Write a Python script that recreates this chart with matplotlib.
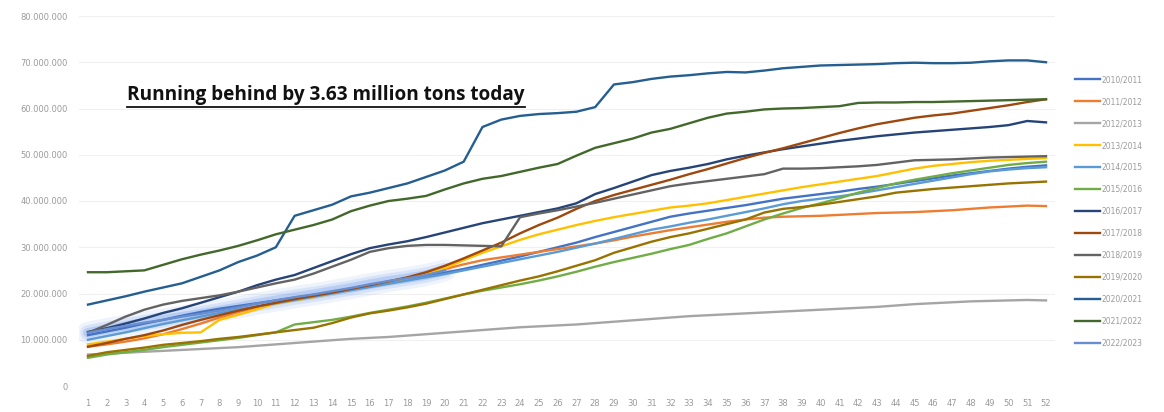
import matplotlib
matplotlib.use("Agg")
import matplotlib.pyplot as plt
from matplotlib.lines import Line2D
from matplotlib.ticker import FuncFormatter

weeks = list(range(1, 53))

s2010_11 = [11.0, 11.8, 12.6, 13.5, 14.3, 15.2, 16.0, 16.7, 17.3, 17.9, 18.5, 19.1, 19.7, 20.3, 21.0, 21.7, 22.4, 23.0, 23.7, 24.5,
            25.3, 26.2, 27.1, 28.0, 29.0, 30.0, 31.0, 32.2, 33.3, 34.4, 35.5, 36.6, 37.3, 37.9, 38.5, 39.1, 39.8, 40.5, 41.0, 41.5,
            42.0, 42.6, 43.1, 43.7, 44.3, 44.9, 45.5, 46.0, 46.5, 47.0, 47.4, 47.7]
s2011_12 = [8.5, 9.0, 9.6, 10.3, 11.2, 12.3, 13.5, 14.8, 16.0, 17.0, 18.0, 18.8, 19.5, 20.2, 21.0, 21.8, 22.6, 23.4, 24.3, 25.3,
            26.3, 27.2, 27.8, 28.4, 29.0, 29.6, 30.2, 30.8, 31.5, 32.3, 33.0, 33.7, 34.3, 34.9, 35.5, 36.0, 36.4, 36.6, 36.7, 36.8,
            37.0, 37.2, 37.4, 37.5, 37.6, 37.8, 38.0, 38.3, 38.6, 38.8, 39.0, 38.9]
s2012_13 = [6.8, 7.0, 7.2, 7.4, 7.6, 7.8, 8.0, 8.2, 8.4, 8.7, 9.0, 9.3, 9.6, 9.9, 10.2, 10.4, 10.6, 10.9, 11.2, 11.5,
            11.8, 12.1, 12.4, 12.7, 12.9, 13.1, 13.3, 13.6, 13.9, 14.2, 14.5, 14.8, 15.1, 15.3, 15.5, 15.7, 15.9, 16.1, 16.3, 16.5,
            16.7, 16.9, 17.1, 17.4, 17.7, 17.9, 18.1, 18.3, 18.4, 18.5, 18.6, 18.5]
s2013_14 = [9.0, 9.6, 10.2, 10.8, 11.2, 11.5, 11.6, 14.3, 15.4, 16.6, 17.8, 18.5, 19.2, 20.0, 20.8, 21.5, 22.3, 23.2, 24.2, 25.5,
            27.2, 28.8, 30.2, 31.6, 32.8, 33.8, 34.8, 35.7, 36.5, 37.2, 37.9, 38.6, 39.0, 39.5, 40.2, 40.9, 41.6, 42.3, 43.0, 43.6,
            44.2, 44.8, 45.4, 46.2, 47.0, 47.6, 48.0, 48.4, 48.7, 48.9, 49.1, 49.3]
s2014_15 = [10.0, 10.8, 11.6, 12.5, 13.4, 14.2, 15.0, 15.8, 16.5, 17.2, 17.9, 18.6, 19.3, 20.0, 20.7, 21.4, 22.1, 22.8, 23.5, 24.2,
            25.0, 25.8, 26.6, 27.4, 28.2, 29.0, 29.9, 30.8, 31.8, 32.8, 33.8, 34.5, 35.3, 36.0, 36.8, 37.6, 38.4, 39.3, 40.0, 40.5,
            41.0, 41.6, 42.3, 43.0, 43.7, 44.4, 45.1, 45.8, 46.4, 46.8, 47.1, 47.3]
s2015_16 = [6.1, 6.8, 7.3, 7.8, 8.4, 8.9, 9.4, 9.9, 10.4, 11.0, 11.6, 13.3, 13.8, 14.3, 15.0, 15.8, 16.5, 17.2, 18.0, 18.9,
            19.8, 20.6, 21.3, 22.0, 22.8, 23.7, 24.7, 25.8, 26.8, 27.7, 28.6, 29.6, 30.5, 31.8, 33.0, 34.5, 36.0, 37.3, 38.5, 39.5,
            40.6, 41.8, 42.8, 43.8, 44.6, 45.3, 46.0, 46.6, 47.2, 47.8, 48.2, 48.5]
s2016_17 = [11.7, 12.5, 13.5, 14.6, 15.8, 16.8, 18.0, 19.2, 20.4, 21.8, 23.0, 24.0, 25.5, 27.0, 28.5, 29.8, 30.6, 31.3, 32.2, 33.2,
            34.2, 35.2, 36.0, 36.8, 37.6, 38.4, 39.5, 41.5, 42.8, 44.2, 45.6, 46.5, 47.2, 48.0, 49.0, 49.8, 50.5, 51.2, 51.8, 52.4,
            53.0, 53.5, 54.0, 54.4, 54.8, 55.1, 55.4, 55.7, 56.0, 56.4, 57.3, 57.0]
s2017_18 = [8.5, 9.3, 10.2, 11.0, 12.0, 13.2, 14.3, 15.3, 16.3, 17.2, 18.0, 18.8, 19.5, 20.2, 21.0, 21.8, 22.6, 23.5, 24.6, 26.0,
            27.6, 29.3, 31.0, 33.0, 34.8, 36.4, 38.3, 40.0, 41.3, 42.4, 43.5, 44.6, 45.8, 46.9, 48.1, 49.3, 50.4, 51.4, 52.5, 53.6,
            54.7, 55.7, 56.6, 57.3, 58.0, 58.5, 58.9, 59.5, 60.1, 60.7, 61.4, 62.0]
s2018_19 = [11.5, 13.2, 15.0, 16.5, 17.6, 18.4, 19.0, 19.6, 20.4, 21.3, 22.2, 23.0, 24.3, 25.8, 27.3, 29.0, 29.8, 30.3, 30.5, 30.5,
            30.4, 30.3, 30.2, 36.5, 37.3, 38.0, 38.8, 39.6, 40.5, 41.4, 42.3, 43.2, 43.8, 44.3, 44.8, 45.3, 45.8, 47.0, 47.0, 47.1,
            47.3, 47.5, 47.8, 48.3, 48.8, 48.9, 49.0, 49.2, 49.4, 49.5, 49.6, 49.7]
s2019_20 = [6.5, 7.3, 7.8, 8.3, 8.9, 9.3, 9.7, 10.2, 10.6, 11.1, 11.6, 12.1, 12.6, 13.6, 14.8, 15.7, 16.3, 17.0, 17.8, 18.8,
            19.8, 20.8, 21.8, 22.8, 23.7, 24.8, 26.0, 27.2, 28.8, 30.0, 31.2, 32.2, 33.0, 34.0, 35.0, 36.0, 37.5, 38.3, 38.7, 39.2,
            39.8, 40.4, 41.0, 41.8, 42.2, 42.6, 42.9, 43.2, 43.5, 43.8, 44.0, 44.2]
s2020_21 = [17.6, 18.5, 19.4, 20.4, 21.3, 22.2, 23.6, 25.0, 26.8, 28.2, 30.0, 36.8, 38.0, 39.2, 41.0, 41.8, 42.8, 43.8, 45.2, 46.6,
            48.5, 56.0, 57.6, 58.4, 58.8, 59.0, 59.3, 60.3, 65.2, 65.7, 66.4, 66.9, 67.2, 67.6, 67.9, 67.8, 68.2, 68.7, 69.0, 69.3,
            69.4, 69.5, 69.6, 69.8, 69.9, 69.8, 69.8, 69.9, 70.2, 70.4, 70.4, 70.0]
s2021_22 = [24.6, 24.6, 24.8, 25.0, 26.2, 27.4, 28.4, 29.3, 30.3, 31.5, 32.8, 33.8, 34.8, 36.0, 37.8, 39.0, 40.0, 40.5, 41.1, 42.5,
            43.8, 44.8, 45.4, 46.3, 47.2, 48.0, 49.8, 51.5, 52.5, 53.5, 54.8, 55.6, 56.8, 58.0, 58.9, 59.3, 59.8, 60.0, 60.1, 60.3,
            60.5, 61.2, 61.3, 61.3, 61.4, 61.4, 61.5, 61.6, 61.7, 61.8, 61.9, 62.0]
s2022_23 = [11.5, 12.3, 13.0, 13.7, 14.3, 15.0, 15.6, 16.3, 17.0, 17.8, 18.5, 19.2, 19.8, 20.5, 21.2, 22.0, 22.7, 23.3, 24.0, 25.0]

season_labels = ["2010/2011", "2011/2012", "2012/2013", "2013/2014", "2014/2015", "2015/2016", "2016/2017",
                 "2017/2018", "2018/2019", "2019/2020", "2020/2021", "2021/2022", "2022/2023"]
season_values = [s2010_11, s2011_12, s2012_13, s2013_14, s2014_15, s2015_16, s2016_17,
                 s2017_18, s2018_19, s2019_20, s2020_21, s2021_22, s2022_23]
colors = ["#4472C4", "#ED7D31", "#A5A5A5", "#FFC000", "#5B9BD5", "#70AD47", "#264478",
          "#9E480E", "#636363", "#997300", "#255E91", "#43682B", "#698ED0"]
annotation = "Running behind by 3.63 million tons today"

W, H = 1164, 412
fig = plt.figure(figsize=(W / 100, H / 100), dpi=100)
ax = fig.add_axes([78.6 / W, 1 - 386 / H, (1055.4 - 78.6) / W, (386 - 16) / H])

handles = []
for lab, vals, c in zip(season_labels, season_values, colors):
    x = weeks[:len(vals)]
    y = [v * 1e6 for v in vals]
    if lab == "2022/2023":
        for lw, a in [(16, 0.10), (11, 0.15), (7, 0.25)]:
            ax.plot(x, y, color="#5B8EE6", lw=lw, alpha=a, solid_capstyle="round", zorder=1)
    ln, = ax.plot(x, y, color=c, lw=1.7, label=lab, zorder=3)
    handles.append(ln)

ax.set_xlim(0.5, 52.5)
ax.set_ylim(0, 80e6)
ax.set_yticks([i * 1e7 for i in range(9)])
ax.yaxis.set_major_formatter(FuncFormatter(lambda v, p: "0" if v == 0 else f"{int(v):,}".replace(",", ".")))
ax.set_xticks(weeks)
ax.set_xticklabels([str(w) for w in weeks])
ax.tick_params(axis="both", length=0, labelsize=6, labelcolor="#9A9A9A")
ax.tick_params(axis="x", pad=9)
ax.tick_params(axis="y", pad=8)
ax.grid(axis="y", color="#F0F0F0", lw=0.8)
ax.set_axisbelow(True)
for sp in ax.spines.values():
    sp.set_visible(False)

txt = ax.text(127 / W, 0, annotation, transform=fig.transFigure, fontsize=13.7,
              fontweight="bold", family="Open Sans", color="#111111", va="baseline")
txt.set_y(1 - 100 / H)
fig.canvas.draw()
bb = txt.get_window_extent()
fig.add_artist(Line2D([bb.x0 / W, bb.x1 / W], [(bb.y0 - 1.5) / H, (bb.y0 - 1.5) / H],
                      transform=fig.transFigure, color="#111111", lw=1.3))

leg = fig.legend(handles=handles, loc="upper left", bbox_to_anchor=(1072 / W, 1 - 72 / H),
                 frameon=False, fontsize=5.5, labelcolor="#9A9A9A", handlelength=3.2,
                 handletextpad=0.2, labelspacing=1.7, borderaxespad=0)

fig.savefig("out.png", dpi=100)
